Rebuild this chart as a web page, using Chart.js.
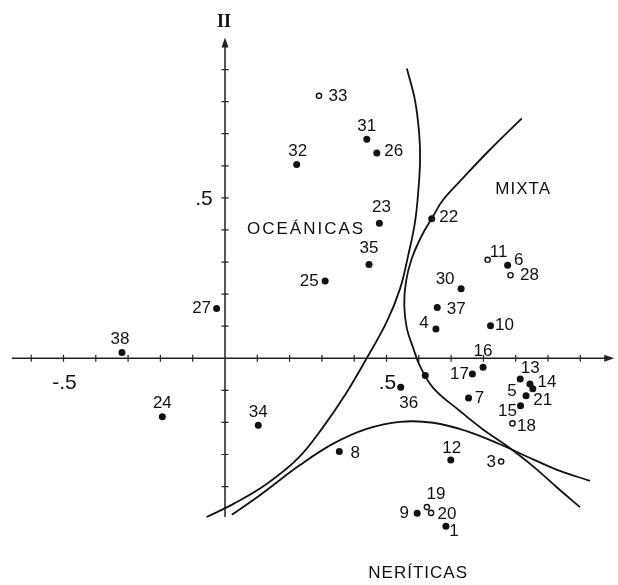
<!DOCTYPE html>
<html>
<head>
<meta charset="utf-8">
<script src="https://cdn.jsdelivr.net/npm/chart.js@4.4.1/dist/chart.umd.min.js"></script>
<style>
  html, body { margin: 0; padding: 0; background: #fff; }
  #wrap { width: 618px; height: 585px; }
</style>
</head>
<body>
<div id="wrap"><canvas id="chart" width="618" height="585"></canvas></div>
<script>
// Station numbers with their scores on axis I (horizontal) and axis II (vertical)
const stations = [33, 31, 26, 32, 23, 22, 35, 25, 11, 6, 28, 30, 27, 37, 4, 10, 38, 16, '', 17,
                  13, 14, 21, 36, 5, 7, 15, 24, 18, 34, 8, 12, 3, 19, 9, 20, 1];
const axisI  = [0.291, 0.439, 0.470, 0.222, 0.478, 0.640, 0.446, 0.310, 0.813, 0.875, 0.884, 0.731, -0.026, 0.657, 0.653, 0.822, -0.319, 0.799, 0.620, 0.766,
                0.914, 0.944, 0.953, 0.544, 0.932, 0.754, 0.915, -0.194, 0.890, 0.103, 0.354, 0.699, 0.855, 0.625, 0.595, 0.638, 0.684];
const axisII = [0.818, 0.683, 0.640, 0.604, 0.421, 0.435, 0.292, 0.241, 0.307, 0.290, 0.259, 0.217, 0.155, 0.158, 0.091, 0.101, 0.018, -0.028, -0.054, -0.049,
                -0.065, -0.080, -0.095, -0.090, -0.117, -0.124, -0.148, -0.182, -0.203, -0.209, -0.291, -0.317, -0.322, -0.464, -0.483, -0.482, -0.524];
// stations drawn as small rings instead of dots
const openMarks = [33, 11, 28, 18, 3, 19, 20];

// where each number sits relative to its dot (px)
const labelOffsets = [[19, 0], [0, -13], [17, -2], [1, -13], [2, -16], [17, -1], [0, -16], [-16, 0], [11, -7], [11, -5], [19, 0], [-16, -9], [-15, 0], [19, 2], [-12, -6], [14, -1], [-2, -13], [0, -16], [0, 0], [-13, 0],
                      [10, -11], [17, -2], [10, 12], [8, 16], [-14, -4], [11, 0], [-13, 6], [0, -13], [14, 3], [0, -13], [16, 2], [1, -12], [-10, 1], [9, -13], [-13, 0], [16, 1], [8, 5]];

// boundary curves
const curveAx = [0.563, 0.588, 0.601, 0.604, 0.598, 0.588, 0.567, 0.542, 0.501, 0.437, 0.372, 0.302, 0.228, 0.129, 0.026, -0.057];
const curveAy = [0.903, 0.805, 0.702, 0.619, 0.516, 0.423, 0.320, 0.217, 0.114, -0.003, -0.114, -0.217, -0.310, -0.392, -0.454, -0.495];
const curveBx = [0.919, 0.820, 0.738, 0.676, 0.645, 0.609, 0.578, 0.560, 0.555, 0.563, 0.583, 0.604, 0.645, 0.728, 0.800, 0.872, 0.954, 1.027, 1.099];
const curveBy = [0.748, 0.650, 0.563, 0.495, 0.444, 0.382, 0.310, 0.237, 0.165, 0.093, 0.031, -0.025, -0.093, -0.165, -0.223, -0.273, -0.337, -0.402, -0.464];
const curveCx = [0.021, 0.108, 0.232, 0.335, 0.439, 0.542, 0.645, 0.748, 0.851, 0.954, 1.037, 1.130];
const curveCy = [-0.488, -0.427, -0.333, -0.266, -0.220, -0.198, -0.201, -0.227, -0.268, -0.315, -0.351, -0.382];

// axis ticks and labels
const xTickMarks = [-0.6, -0.5, -0.4, -0.3, -0.2, -0.1, 0.1, 0.2, 0.3, 0.4, 0.5, 0.6, 0.7, 0.8, 0.9, 1.0, 1.1];
const yTickMarks = [0.9, 0.8, 0.7, 0.6, 0.5, 0.4, 0.3, 0.2, 0.1, -0.1, -0.2, -0.3, -0.4];
const xTickValues = [-0.5, 0.5];
const xTickText = ['-.5', '.5'];
const yTickValues = [0.5];
const yTickText = ['.5'];
const xAxisRange = [-0.66, 1.205];
const yAxisRange = [-0.495, 1.0];

// group names and where they are written (data units)
const regionNames = ['OCEÁNICAS', 'MIXTA', 'NERÍTICAS'];
const regionX = [0.251, 0.923, 0.598];
const regionY = [0.402, 0.526, -0.670];

const INK = '#111';

function toPoints(xs, ys) {
    return xs.map((x, i) => ({ x: x, y: ys[i] }));
}

function isOpen(i) {
    return openMarks.includes(stations[i]);
}

const curveStyle = {
    showLine: true,
    borderColor: INK,
    borderWidth: 1.8,
    pointRadius: 0,
    tension: 0.4,
    fill: false,
    clip: false
};

/**
 * Draws the crossing axes, their ticks, arrows and labels, through the chart's scales.
 */
const crossAxes = {
    id: 'crossAxes',
    beforeDatasetsDraw(chart) {
        const ctx = chart.ctx;
        const xs = chart.scales.x;
        const ys = chart.scales.y;
        const x0 = xs.getPixelForValue(0);
        const y0 = ys.getPixelForValue(0);
        const xEnd = xs.getPixelForValue(xAxisRange[1]);
        const yEnd = ys.getPixelForValue(yAxisRange[1]);

        ctx.save();
        ctx.strokeStyle = '#222';
        ctx.fillStyle = '#222';
        ctx.lineWidth = 1.5;

        ctx.beginPath();
        ctx.moveTo(xs.getPixelForValue(xAxisRange[0]), y0);
        ctx.lineTo(xEnd - 4, y0);
        ctx.moveTo(x0, ys.getPixelForValue(yAxisRange[0]));
        ctx.lineTo(x0, yEnd + 4);
        ctx.stroke();

        // arrow heads
        ctx.beginPath();
        ctx.moveTo(xEnd, y0);
        ctx.lineTo(xEnd - 10, y0 - 3.5);
        ctx.lineTo(xEnd - 10, y0 + 3.5);
        ctx.closePath();
        ctx.moveTo(x0, yEnd);
        ctx.lineTo(x0 - 3.5, yEnd + 10);
        ctx.lineTo(x0 + 3.5, yEnd + 10);
        ctx.closePath();
        ctx.fill();

        ctx.lineWidth = 1.2;
        ctx.beginPath();
        xTickMarks.forEach(v => {
            const px = xs.getPixelForValue(v);
            ctx.moveTo(px, y0 - 3.5);
            ctx.lineTo(px, y0 + 3.5);
        });
        yTickMarks.forEach(v => {
            const py = ys.getPixelForValue(v);
            ctx.moveTo(x0 - 3.5, py);
            ctx.lineTo(x0 + 3.5, py);
        });
        ctx.stroke();

        ctx.fillStyle = INK;
        ctx.font = '21px "Liberation Sans"';
        ctx.textAlign = 'center';
        ctx.textBaseline = 'middle';
        xTickValues.forEach((v, i) => {
            ctx.fillText(xTickText[i], xs.getPixelForValue(v) + 1, y0 + 25);
        });
        yTickValues.forEach((v, i) => {
            ctx.fillText(yTickText[i], x0 - 21, ys.getPixelForValue(v) + 1);
        });

        ctx.font = 'bold 18px "Liberation Serif"';
        ctx.fillText('II', x0 - 1, yEnd - 15);
        ctx.restore();
    },
    afterDatasetsDraw(chart) {
        const ctx = chart.ctx;
        const xs = chart.scales.x;
        const ys = chart.scales.y;
        const meta = chart.getDatasetMeta(3);

        ctx.save();
        ctx.fillStyle = INK;
        ctx.textAlign = 'center';
        ctx.textBaseline = 'middle';
        ctx.font = '17px "Liberation Sans"';
        meta.data.forEach((pt, i) => {
            if (stations[i] === '') return;
            const off = labelOffsets[i];
            ctx.fillText(String(stations[i]), pt.x + off[0], pt.y + off[1]);
        });

        regionNames.forEach((name, i) => {
            ctx.letterSpacing = i === 0 ? '2px' : '1px';
            ctx.fillText(name, xs.getPixelForValue(regionX[i]), ys.getPixelForValue(regionY[i]));
        });
        ctx.restore();
    }
};

new Chart(document.getElementById('chart'), {
    type: 'scatter',
    data: {
        datasets: [
            Object.assign({ data: toPoints(curveAx, curveAy) }, curveStyle),
            Object.assign({ data: toPoints(curveBx, curveBy) }, curveStyle),
            Object.assign({ data: toPoints(curveCx, curveCy) }, curveStyle),
            {
                data: toPoints(axisI, axisII),
                clip: false,
                pointRadius: c => isOpen(c.dataIndex) ? 2.6 : 3.5,
                pointBackgroundColor: c => isOpen(c.dataIndex) ? '#fff' : INK,
                pointBorderColor: INK,
                pointBorderWidth: c => isOpen(c.dataIndex) ? 1.4 : 0
            }
        ]
    },
    options: {
        responsive: false,
        animation: false,
        events: [],
        layout: { padding: { left: 15.05, right: 5.4, top: 4.7, bottom: 2.13 } },
        plugins: {
            legend: { display: false },
            tooltip: { enabled: false }
        },
        scales: {
            x: { type: 'linear', min: -0.65, max: 1.2, display: false },
            y: { type: 'linear', min: -0.69, max: 1.1, display: false }
        }
    },
    plugins: [crossAxes]
});
</script>
</body>
</html>
